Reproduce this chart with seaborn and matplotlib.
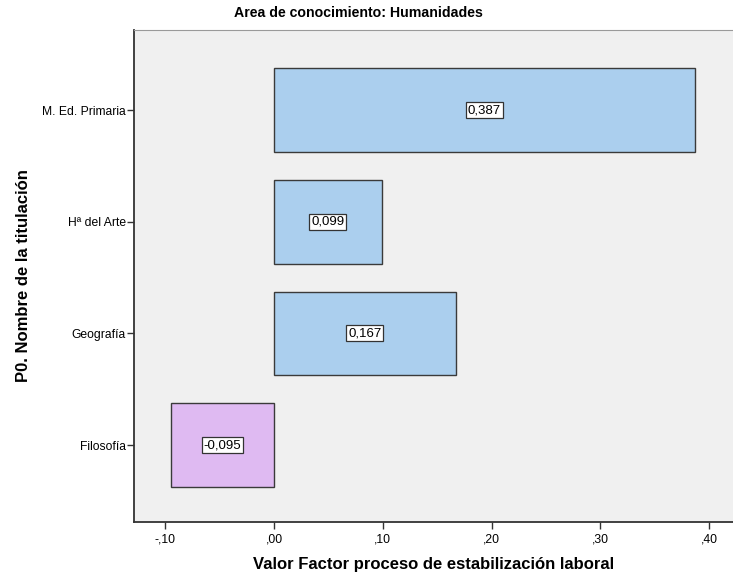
import numpy as np
import pandas as pd
import matplotlib
matplotlib.use("Agg")
import matplotlib.pyplot as plt
import seaborn as sns
from matplotlib.ticker import FuncFormatter

titulaciones = ["M. Ed. Primaria", "Hª del Arte", "Geografía", "Filosofía"]
valores = [0.387, 0.099, 0.167, -0.095]
colores = ["#abcfee", "#abcfee", "#abcfee", "#dfbaf2"]
xticks = [-0.10, 0.0, 0.10, 0.20, 0.30, 0.40]

df = pd.DataFrame({"titulacion": titulaciones, "valor": valores})

sns.set_style("white")
plt.rcParams["font.family"] = ["Liberation Sans", "DejaVu Sans"]
plt.rcParams["text.color"] = "black"
plt.rcParams["axes.labelcolor"] = "black"
plt.rcParams["xtick.color"] = "black"
plt.rcParams["ytick.color"] = "black"

fig = plt.figure(figsize=(7.33, 5.81), dpi=100)
ax = fig.add_axes([134 / 733, 1 - 522 / 581, 1 - 134 / 733, (522 - 30) / 581])
ax.set_facecolor("#f0f0f0")

sns.barplot(data=df, x="valor", y="titulacion", hue="titulacion",
            palette=colores, saturation=1, orient="h", width=0.75, legend=False,
            edgecolor="#3a3a3a", linewidth=1.0, ax=ax)

# etiquetas de valor en el centro de cada barra
for i, v in enumerate(valores):
    txt = f"{v:.3f}".replace(".", ",")
    ax.text(v / 2, i, txt, ha="center", va="center", fontsize=9.5,
            bbox=dict(boxstyle="square,pad=0.15", fc="white", ec="#333333", lw=0.9))

def fmt(x, pos):
    s = f"{x:.2f}".replace(".", ",")
    return s.replace("0,", ",", 1)

ax.xaxis.set_major_formatter(FuncFormatter(fmt))
ax.set_xticks(xticks)
ax.set_xlim(-0.1287, 0.422)
ax.set_ylim(3.69, -0.72)

ax.tick_params(axis="both", which="both", length=5, width=1, color="#333333",
               labelsize=8.7, direction="out", left=True, bottom=True)
ax.tick_params(axis="y", pad=1)
for s in ["left", "bottom"]:
    ax.spines[s].set_color("#333333")
    ax.spines[s].set_linewidth(1.3)
ax.spines["top"].set_color("#9a9a9a")
ax.spines["top"].set_linewidth(0.8)
ax.spines["right"].set_visible(False)

ax.set_xlabel("Valor Factor proceso de estabilización laboral", fontsize=12,
              fontweight="bold")
ax.set_ylabel("P0. Nombre de la titulación", fontsize=12, fontweight="bold")
ax.yaxis.set_label_coords(-(134 - 31) / 599, 0.5)
ax.xaxis.set_label_coords(0.5, -(557 - 522) / 492)

fig.text(358 / 733, 1 - 13 / 581, "Area de conocimiento: Humanidades",
         ha="center", va="center", fontsize=10.2, fontweight="bold")

fig.savefig("out.png", dpi=100)
